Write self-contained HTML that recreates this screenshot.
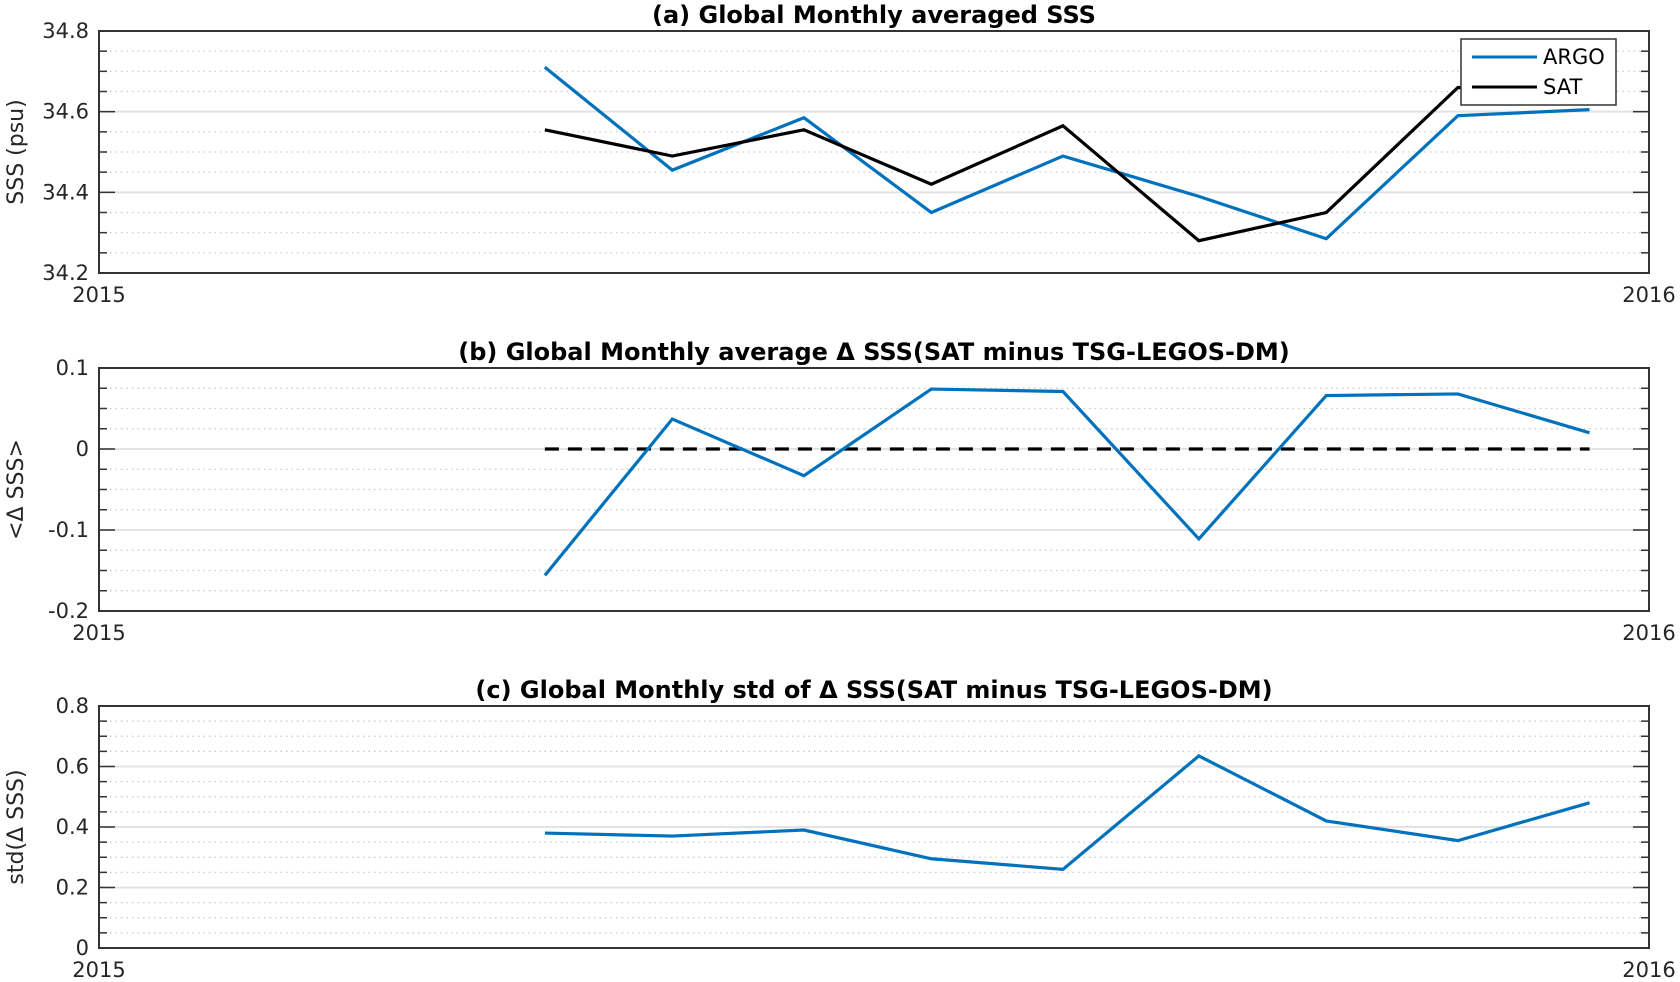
<!DOCTYPE html>
<html><head><meta charset="utf-8"><style>
body{margin:0;background:#fff}
svg{display:block;font-family:"DejaVu Sans","Liberation Sans",sans-serif}
</style></head><body>
<svg id="fig" width="1680" height="982" viewBox="0 0 1680 982" xmlns="http://www.w3.org/2000/svg"></svg>
<script>
const days = [105,135,166,196,227,259,289,320,351];
const argoSSS = [34.71,34.455,34.585,34.35,34.49,34.39,34.285,34.59,34.605];
const satSSS = [34.555,34.49,34.555,34.42,34.565,34.28,34.35,34.66,34.655];
const deltaMean = [-0.156,0.037,-0.033,0.074,0.071,-0.111,0.066,0.068,0.02];
const deltaStd = [0.38,0.37,0.39,0.295,0.26,0.635,0.42,0.355,0.48];
const ticksA = ["34.2","34.4","34.6","34.8"];
const ticksB = ["-0.2","-0.1","0","0.1"];
const ticksC = ["0","0.2","0.4","0.6","0.8"];

const NS="http://www.w3.org/2000/svg";
const svg=document.getElementById('fig');
const L=99,R=1649;
function mk(tag,attrs,parent){const e=document.createElementNS(NS,tag);for(const k in attrs)e.setAttribute(k,attrs[k]);(parent||svg).appendChild(e);return e;}
function xs(d){return L+d/365*(R-L);}

function panel(name,top,bot,ymin,ymax,ticks,minorStep,title,ylabel){
  const g=mk('g',{});
  
  
  const ys=v=>bot-(v-ymin)/(ymax-ymin)*(bot-top);
  const n=Math.round((ymax-ymin)/minorStep);
  for(let i=1;i<n;i++){
    const v=ymin+i*minorStep,y=ys(v);
    const major=ticks.some(t=>Math.abs(parseFloat(t)-v)<1e-9);
    const gl=mk('line',{x1:L,x2:R,y1:y,y2:y,stroke:major?'#e3e3e3':'#c8c8c8','stroke-width':major?2:1.2,'stroke-dasharray':major?'':'1.5 4'},g);
    
    
    const tl=major?16:8;
    mk('line',{x1:L,x2:L+tl,y1:y,y2:y,stroke:'#333','stroke-width':1.5},g);
    mk('line',{x1:R,x2:R-tl,y1:y,y2:y,stroke:'#333','stroke-width':1.5},g);
  }
  ticks.forEach(t=>{
    const tx=mk('text',{x:L-10,y:ys(parseFloat(t))+7,'text-anchor':'end','font-size':21,fill:'#262626'},g);
    tx.textContent=t;
    
    
  });
  const fr=mk('rect',{x:L,y:top,width:R-L,height:bot-top,fill:'none',stroke:'#333','stroke-width':2},g);
  
  
  const x1=mk('text',{x:L,y:bot+29,'text-anchor':'middle','font-size':21,fill:'#262626'},g);x1.textContent='2015';
  
  
  const x2=mk('text',{x:R,y:bot+29,'text-anchor':'middle','font-size':21,fill:'#262626'},g);x2.textContent='2016';
  
  
  const ti=mk('text',{x:(L+R)/2,y:top-8,'text-anchor':'middle','font-size':24,'font-weight':'bold',fill:'#000'},g);ti.textContent=title;
  
  
  const yl=mk('text',{x:0,y:0,'text-anchor':'middle','font-size':22,fill:'#262626',transform:`translate(23,${(top+bot)/2}) rotate(-90)`},g);yl.textContent=ylabel;
  
  
  return {g,ys};
}
function series(p,vals,color,name,dash){
  const pts=days.map((d,i)=>xs(d)+','+p.ys(vals[i])).join(' ');
  const pl=mk('polyline',{points:pts,fill:'none',stroke:color,'stroke-width':3.2,'stroke-linejoin':'miter','stroke-dasharray':dash||''},p.g);
  
  
}
const pa=panel('panel-a-sss',31,273,34.2,34.8,ticksA,0.05,'(a) Global Monthly averaged SSS','SSS (psu)');
series(pa,argoSSS,'#0072BD','argo-line');
series(pa,satSSS,'#000','sat-line');
const lg=mk('g',{});


mk('rect',{x:1461,y:39,width:155,height:66,fill:'#fff',stroke:'#333','stroke-width':1.5},lg);
mk('line',{x1:1472,x2:1537,y1:57,y2:57,stroke:'#0072BD','stroke-width':3},lg);
mk('line',{x1:1472,x2:1537,y1:87,y2:87,stroke:'#000','stroke-width':3},lg);
const la=mk('text',{x:1543,y:64,'font-size':21,fill:'#000'},lg);la.textContent='ARGO';


const ls=mk('text',{x:1543,y:94,'font-size':21,fill:'#000'},lg);ls.textContent='SAT';



const pb=panel('panel-b-delta-mean',368,611,-0.2,0.1,ticksB,0.025,'(b) Global Monthly average \u0394 SSS(SAT minus TSG-LEGOS-DM)','<\u0394 SSS>');
const zeros=days.map(()=>0);
series(pb,zeros,'#000','zero-dashed-line','14 9');
series(pb,deltaMean,'#0072BD','delta-mean-line');

const pc=panel('panel-c-delta-std',706,948,0,0.8,ticksC,0.05,'(c) Global Monthly std of \u0394 SSS(SAT minus TSG-LEGOS-DM)','std(\u0394 SSS)');
series(pc,deltaStd,'#0072BD','delta-std-line');
</script>
</body></html>
